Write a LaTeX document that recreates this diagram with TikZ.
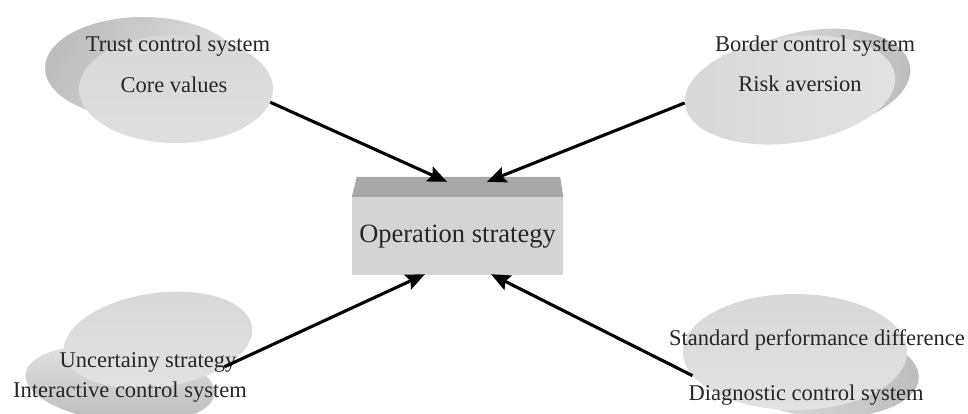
\documentclass[tikz,border=0pt]{standalone}
\usepackage{fontspec}
\setmainfont{Liberation Serif}
\usetikzlibrary{arrows.meta,shapes.geometric,calc}
\definecolor{discfront}{HTML}{D8D8D8}
\definecolor{disclight}{HTML}{E2E2E2}
\definecolor{discdark}{HTML}{BDBDBD}
\definecolor{boxc}{HTML}{D4D4D4}
\definecolor{bandc}{HTML}{A8A8A8}
\definecolor{textc}{HTML}{262626}
\begin{document}
\begin{tikzpicture}[x=1pt,y=-1pt,
  disc/.style={ellipse, draw=none, inner sep=0pt},
  lbl/.style={font=\fontsize{22.5}{27}\selectfont, text=textc, inner sep=0pt, text height=15pt, text depth=5pt},
  arr/.style={line width=3.1pt, -{Stealth[length=19pt,width=16pt,inset=3pt]}},
  boxst/.style={rectangle, fill=boxc, minimum width=211pt, minimum height=78pt, inner sep=0pt,
    font=\fontsize{26.5}{30}\selectfont, text=textc, text height=18pt, text depth=6pt}]
\useasboundingbox (0,0) rectangle (968,414);
\fill[white] (0,0) rectangle (968,414);

% top-left disc
\node[disc, minimum width=196pt, minimum height=102pt, left color=discdark, right color=disclight, shading angle=60] (tlb) at (143,68) {};
\node[disc, minimum width=194pt, minimum height=108pt, top color=discfront, bottom color=disclight!60!discfront] (tl) at (176,89) {};
\node[lbl] (t1) at (178,47) {Trust control system};
\node[lbl] (t2) at (174,88) {Core values};

% top-right disc
\node[disc, rotate=8, minimum width=192pt, minimum height=100pt, left color=disclight, right color=discdark] (trb) at (815,80) {};
\node[disc, rotate=8, minimum width=212pt, minimum height=106pt, left color=discfront, right color=disclight] (tr) at (790,90) {};
\node[lbl] (t3) at (815,47) {Border control system};
\node[lbl] (t4) at (800,87) {Risk aversion};

% bottom-left disc
\node[disc, rotate=-6, minimum width=190pt, minimum height=76pt, top color=disclight, bottom color=discdark] (blb) at (120,384) {};
\node[disc, rotate=8, minimum width=190pt, minimum height=94pt, top color=discfront, bottom color=disclight] (bl) at (158,340) {};
\node[lbl] (t5) at (148,362) {Uncertainy strategy};
\node[lbl] (t6) at (130,392) {Interactive control system};

% bottom-right disc
\node[disc, rotate=-4, minimum width=194pt, minimum height=90pt, left color=disclight, right color=discdark] (brb) at (822,372) {};
\node[disc, minimum width=224pt, minimum height=116pt, top color=discfront, bottom color=disclight] (br) at (795,352) {};
\node[lbl] (t7) at (817,340) {Standard performance difference};
\node[lbl] (t8) at (806,395) {Diagnostic control system};

% central box
\node[boxst] (box) at (457.5,236) {Operation strategy};
\fill[bandc] (box.north west) -- ([xshift=5pt,yshift=20pt]box.north west)
  -- ([xshift=-3pt,yshift=20pt]box.north east) -- (box.north east) -- cycle;

% arrows
\draw[arr] (tl.-8) -- ([xshift=-10.5pt,yshift=15pt]box.north);
\draw[arr] (tr.179) -- ([xshift=29.5pt,yshift=15pt]box.north);
\draw[arr] (bl.-30) -- ([xshift=-32.5pt,yshift=1pt]box.south);
\draw[arr] (br.193) -- ([xshift=33.5pt,yshift=1pt]box.south);
\end{tikzpicture}
\end{document}
